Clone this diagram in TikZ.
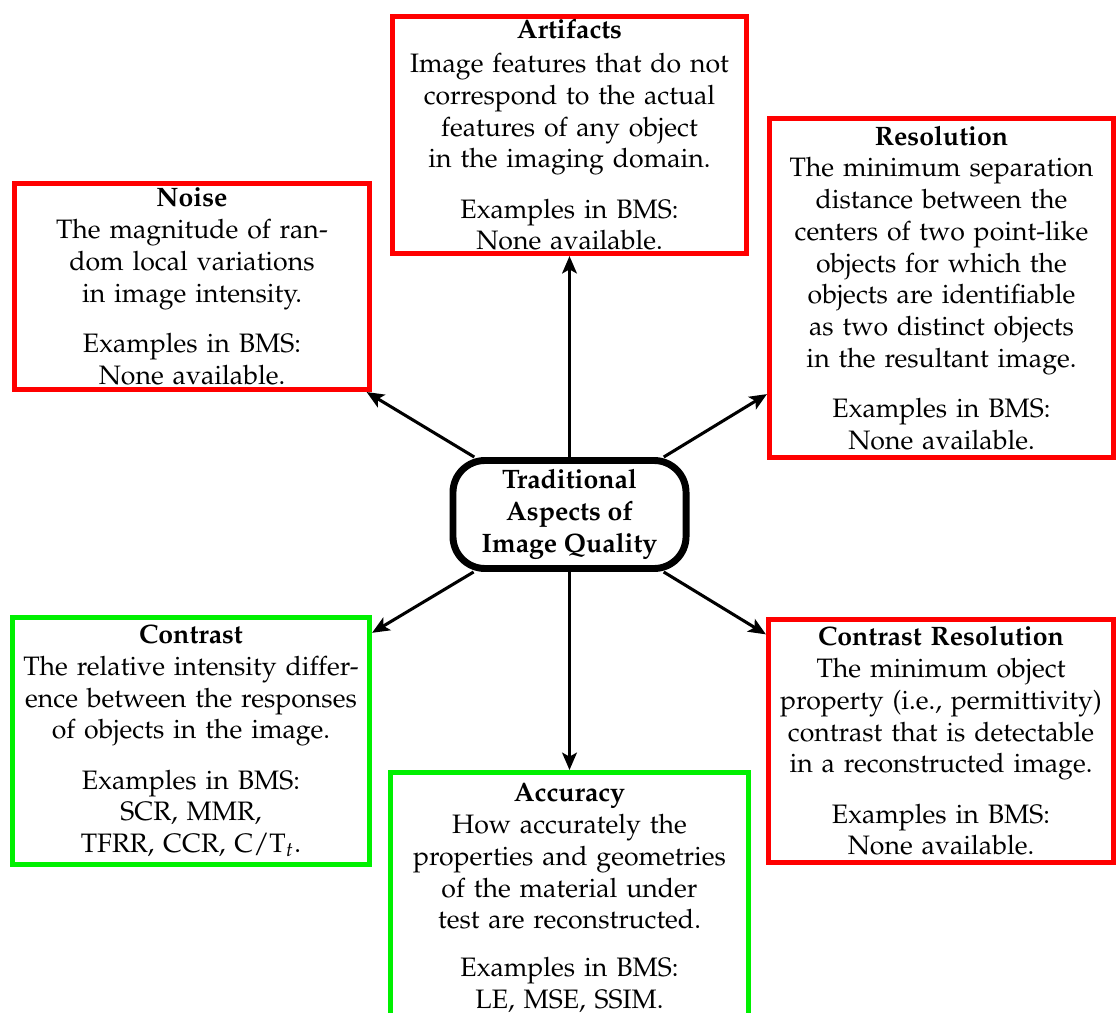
\documentclass[tikz,border=0pt]{standalone}
\usepackage[T1]{fontenc}
\usepackage{mathpazo}
\usetikzlibrary{arrows.meta}
\definecolor{bred}{RGB}{255,0,0}
\definecolor{bgreen}{RGB}{0,240,0}
\begin{document}
\begin{tikzpicture}[x=0.375pt,y=-0.375pt,
  box/.style={draw,line width=1.9pt,align=center,inner sep=0pt,font=\fontsize{10}{11.9}\selectfont},
  redbox/.style={box,draw=bred},
  greenbox/.style={box,draw=bgreen},
  arr/.style={line width=1.15pt,-{Stealth[length=6.5pt,width=5.5pt,inset=1.5pt]}}]
\clip (0,0) rectangle (1118,1012);
\node[redbox,minimum width=133.1pt,minimum height=77.25pt,text width=129pt] (noise) at (192,286.5)
 {\textbf{Noise}\\The magnitude of ran-\\dom local variations\\in image intensity.\\[7pt]Examples in BMS:\\None available.};
\node[redbox,minimum width=132.75pt,minimum height=88.9pt,text width=129pt] (art) at (569.5,135)
 {\textbf{Artifacts}\\[0.8pt]Image features that do not\\correspond to the actual\\features of any object\\in the imaging domain.\\[7pt]Examples in BMS:\\None available.};
\node[redbox,minimum width=129pt,minimum height=127.1pt,text width=126pt] (res) at (941.5,288)
 {\textbf{Resolution}\\The minimum separation\\distance between the\\centers of two point-like\\objects for which the\\objects are identifiable\\as two distinct objects\\in the resultant image.\\[7pt]Examples in BMS:\\None available.};
\node[greenbox,minimum width=133.9pt,minimum height=92.6pt,text width=130pt] (con) at (191,741)
 {\textbf{Contrast}\\The relative intensity differ-\\ence between the responses\\of objects in the image.\\[7pt]Examples in BMS:\\SCR, MMR,\\TFRR, CCR, C/T$_t$.};
\node[greenbox,minimum width=134.25pt,text width=130pt,anchor=north,inner ysep=4pt] (acc) at (569.5,770)
 {\textbf{Accuracy}\\How accurately the\\properties and geometries\\of the material under\\test are reconstructed.\\[6pt]Examples in BMS:\\LE, MSE, SSIM.\\[8pt]\mbox{}};
\node[redbox,minimum width=129.4pt,minimum height=91.1pt,text width=127pt] (cr) at (941,741)
 {\textbf{Contrast Resolution}\\The minimum object\\property (i.e., permittivity)\\contrast that is detectable\\in a reconstructed image.\\[7pt]Examples in BMS:\\None available.};
\node[draw,line width=2.6pt,rounded corners=12pt,minimum width=87.4pt,minimum height=40.5pt,
  align=center,inner sep=0pt,font=\bfseries] (c) at (569.5,514.5)
 {Traditional\\Aspects of\\Image Quality};
\draw[arr] (c) -- (art);
\draw[arr] (c) -- (acc.north);
\draw[arr] (c) -- (noise);
\draw[arr] (c) -- (res);
\draw[arr] (c) -- (con);
\draw[arr] (c) -- (cr);
\end{tikzpicture}
\end{document}
